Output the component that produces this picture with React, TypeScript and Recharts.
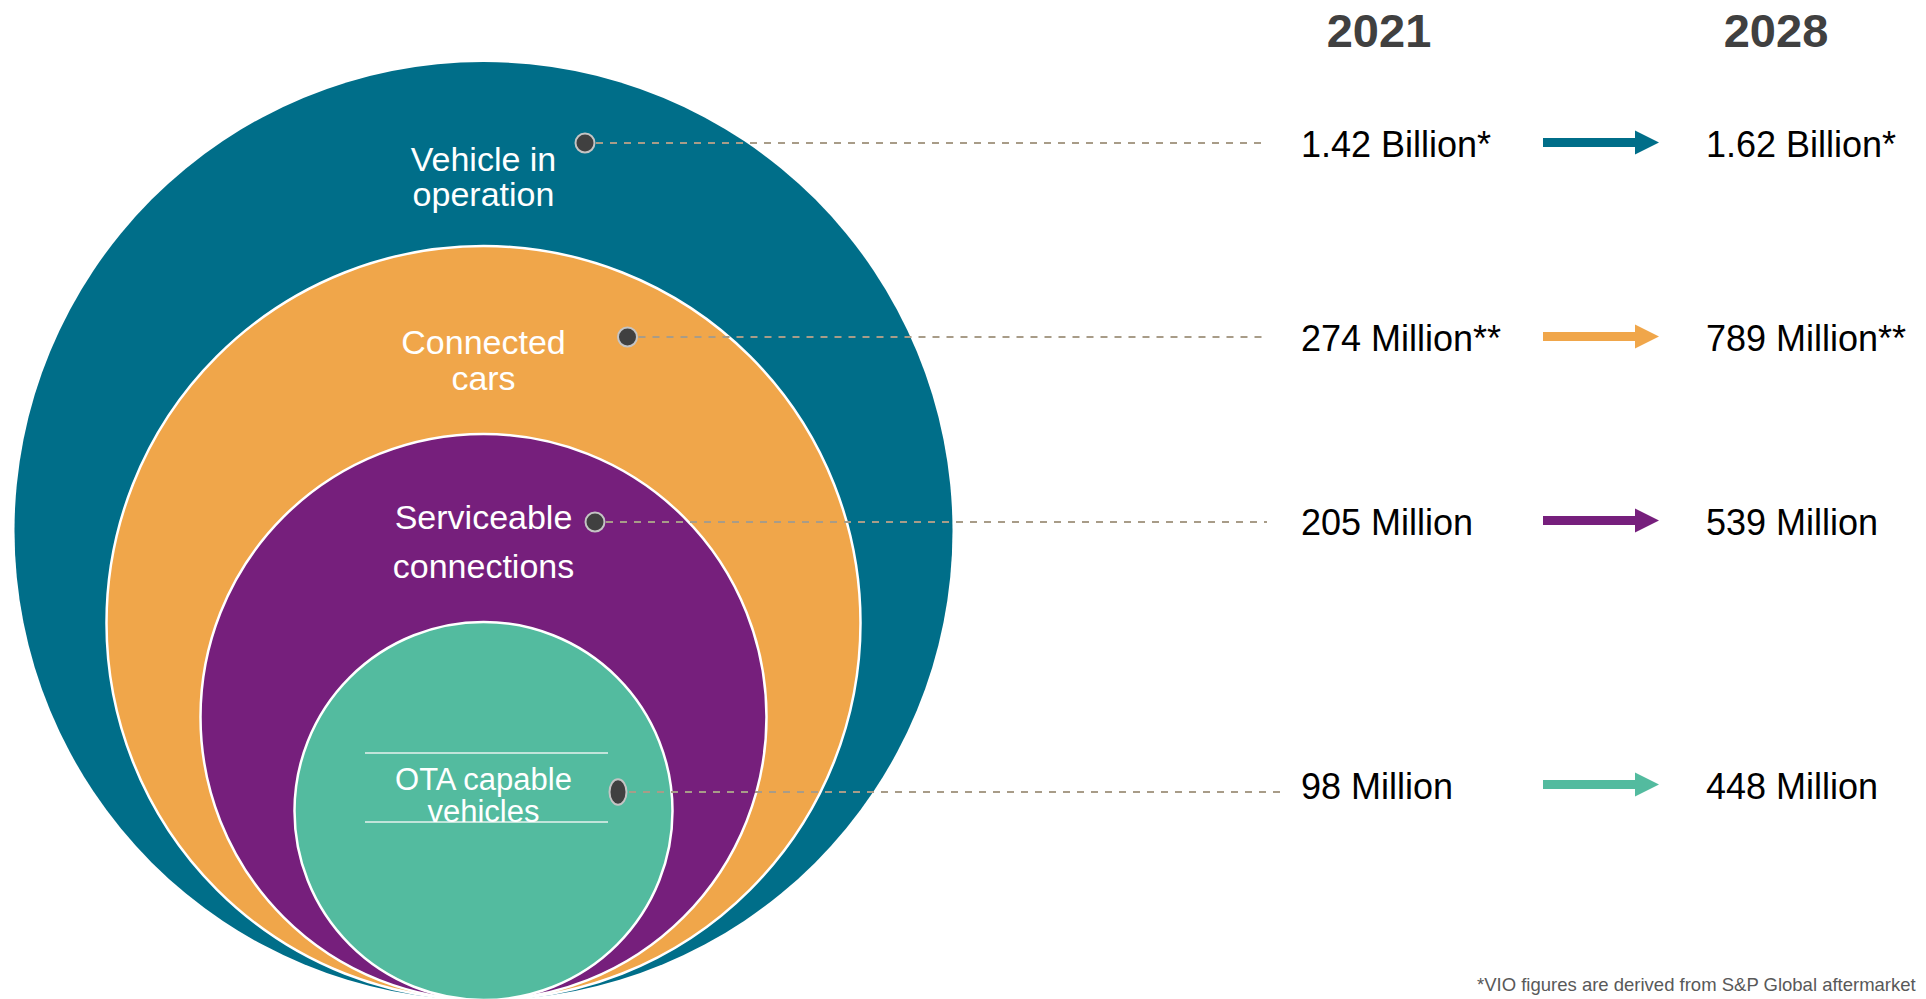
import { ScatterChart, Scatter, XAxis, YAxis } from 'recharts';

// Data
const segments = ['Vehicle in operation', 'Connected cars', 'Serviceable connections', 'OTA capable vehicles'];
const segmentLines = [
  ['Vehicle in', 'operation'],
  ['Connected', 'cars'],
  ['Serviceable', 'connections'],
  ['OTA capable', 'vehicles'],
];
const years = ['2021', '2028'];
const values2021 = [1.42, 274, 205, 98];
const values2028 = [1.62, 789, 539, 448];
const units = ['Billion', 'Million', 'Million', 'Million'];
const marks = ['*', '**', '', ''];
const footnotes = ['*VIO figures are derived from S&P Global aftermarket'];

// Layout (diagram units = px, axes map 1:1)
const W = 1926;
const H = 999;
const FONT = '"Liberation Sans", Arial, Helvetica, sans-serif';
const COLORS = ['#006E89', '#F0A64A', '#761F7C', '#53BB9F'];
const RING_CX = 483.5;
const RING_BASE = 1000;
const RING_R = [469, 377, 283, 189];
const LABEL_BASELINES = [[171, 206], [354, 390], [529, 578], [790, 822]];
const LABEL_SIZE = [34, 34, 34, 31];
const DOT_X = [585, 627.5, 595, 618];
const LINE_Y = [143, 337, 522, 792];
const LINE_END = [1265, 1262, 1267, 1283];
const ROW_MID = [144, 338, 522, 786];
const COL_X = [1301, 1706];
const YEAR_X = [1379, 1776];

const ringData = segments.map((name, i) => ({
  name, i, x: RING_CX, y: RING_BASE - RING_R[i], r: RING_R[i],
}));
const connectorData = segments.map((name, i) => ({
  name, i, x: DOT_X[i], y: LINE_Y[i], x2: LINE_END[i],
}));
const valueData = segments.map((name, i) => ({
  name, i, x: COL_X[0], y: ROW_MID[i],
  from: `${values2021[i]} ${units[i]}${marks[i]}`,
  to: `${values2028[i]} ${units[i]}${marks[i]}`,
}));
const yearData = years.map((year, i) => ({ year, x: YEAR_X[i], y: 29 }));
const noteData = footnotes.map((text, i) => ({ text, x: 1477, y: 991 + i * 22 }));

const RingShape = (props: any) => {
  const { cx, cy, payload } = props;
  const { i, r } = payload;
  const dy = cy - payload.y;
  return (
    <g>
      <circle cx={cx} cy={cy} r={r} fill={COLORS[i]} stroke={i === 0 ? 'none' : '#FFFFFF'} strokeWidth={2.5} />
      {i === 3 && (
        <g stroke="#E6F2EE" strokeWidth={1.5}>
          <line x1={365} x2={608} y1={753 + dy} y2={753 + dy} />
          <line x1={365} x2={608} y1={822 + dy} y2={822 + dy} />
        </g>
      )}
      {segmentLines[i].map((t, k) => (
        <text key={k} x={cx} y={LABEL_BASELINES[i][k] + dy} textAnchor="middle"
          fill="#FFFFFF" fontSize={LABEL_SIZE[i]} fontFamily={FONT}>
          {t}
        </text>
      ))}
    </g>
  );
};

const ConnectorShape = (props: any) => {
  const { cx, cy, payload } = props;
  const end = cx + (payload.x2 - payload.x);
  const last = payload.i === 3;
  return (
    <g>
      <line x1={cx + 11} x2={end} y1={cy} y2={cy} stroke="#A89C88" strokeWidth={2} strokeDasharray="7 7" />
      {last ? (
        <ellipse cx={cx} cy={cy} rx={8.5} ry={12.8} fill="#404040" stroke="#C4C4C4" strokeWidth={2} />
      ) : (
        <circle cx={cx} cy={cy} r={9.5} fill="#404040" stroke="#C4C4C4" strokeWidth={2} />
      )}
    </g>
  );
};

const ValueShape = (props: any) => {
  const { cx, cy, payload } = props;
  const dx = COL_X[1] - COL_X[0];
  const ay = cy - 1.5;
  const color = COLORS[payload.i];
  return (
    <g fontFamily={FONT} fontSize={36} fill="#000000">
      <text x={cx} y={cy + 13}>{payload.from}</text>
      <rect x={cx + 242} y={ay - 4.5} width={93} height={9} fill={color} />
      <polygon points={`${cx + 334},${ay - 12} ${cx + 358},${ay} ${cx + 334},${ay + 12}`} fill={color} />
      <text x={cx + dx} y={cy + 13}>{payload.to}</text>
    </g>
  );
};

const YearShape = (props: any) => (
  <text x={props.cx} y={props.cy + 18} textAnchor="middle" fontFamily={FONT}
    fontSize={47} fontWeight="bold" fill="#404040">
    {props.payload.year}
  </text>
);

const NoteShape = (props: any) => (
  <text x={props.cx} y={props.cy} fontFamily={FONT} fontSize={18.5} fill="#595959">
    {props.payload.text}
  </text>
);

export default function App() {
  return (
    <div style={{ position: 'absolute', left: 0, top: 0, width: W, height: H, overflow: 'hidden', background: '#FFFFFF' }}>
      <ScatterChart width={W} height={H} margin={{ top: 0, right: 0, bottom: 0, left: 0 }}>
        <XAxis type="number" dataKey="x" domain={[0, W]} hide />
        <YAxis type="number" dataKey="y" domain={[0, H]} reversed hide />
        <Scatter data={ringData} shape={RingShape} isAnimationActive={false} />
        <Scatter data={connectorData} shape={ConnectorShape} isAnimationActive={false} />
        <Scatter data={valueData} shape={ValueShape} isAnimationActive={false} />
        <Scatter data={yearData} shape={YearShape} isAnimationActive={false} />
        <Scatter data={noteData} shape={NoteShape} isAnimationActive={false} />
      </ScatterChart>
    </div>
  );
}
